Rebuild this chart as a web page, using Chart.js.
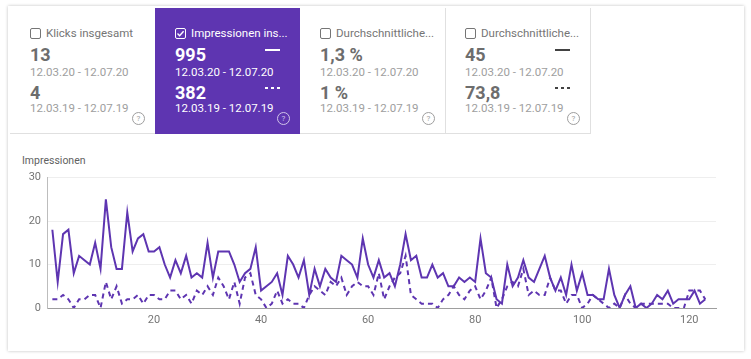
<!DOCTYPE html>
<html>
<head>
<meta charset="utf-8">
<script src="https://cdn.jsdelivr.net/npm/chart.js@4/dist/chart.umd.min.js"></script>
<style>
  body { margin: 0; width: 751px; height: 359px; background: #fff; font-family: Roboto, "Noto Sans", sans-serif; overflow: hidden; position: relative; }
  .panel { position: absolute; left: 8px; top: 6px; width: 736px; height: 345px; background: #fff; box-shadow: 0 0 3px rgba(0,0,0,0.25); }
  .card { position: absolute; top: 8px; width: 145px; height: 126px; color: #757575; border-bottom: 1px solid #e0e0e0; box-sizing: border-box; }
  .card.sel { background: #5e35b1; color: #fff; border-bottom-color: #5e35b1; }
  .card .cb { position: absolute; left: 20px; top: 20px; width: 9px; height: 9px; border: 1.5px solid #757575; border-radius: 2px; }
  .card.sel .cb { border-color: #fff; }
  .card .cb svg { position: absolute; left: 0; top: 0; }
  .card .lbl { position: absolute; left: 36px; top: 18px; font-size: 11.5px; white-space: nowrap; }
  .card .val { position: absolute; left: 20px; font-size: 18px; font-weight: 700; color: #6d6d6d; }
  .card.sel .val { color: #fff; }
  .card .date { position: absolute; left: 20px; font-size: 11.5px; color: #9e9e9e; white-space: nowrap; }
  .card.sel .date { color: #fff; }
  .card .help { position: absolute; left: 122px; top: 104px; width: 11px; height: 11px; border: 1px solid #9e9e9e; border-radius: 50%; font-size: 8px; line-height: 11px; text-align: center; color: #9e9e9e; }
  .card.sel .help { border-color: #d1c4e9; color: #d1c4e9; }
  .card .mk { position: absolute; left: 110px; width: 15px; height: 2px; }
  .mk.solid { top: 41px; background: #424242; }
  .mk.dash { top: 79px; background: repeating-linear-gradient(90deg, #424242 0 3px, transparent 3px 6px); }
  .card.sel .mk.solid { background: #fff; }
  .card.sel .mk.dash { background: repeating-linear-gradient(90deg, #fff 0 3px, transparent 3px 6px); }
  .vline { position: absolute; top: 8px; width: 1px; height: 126px; background: #e0e0e0; }
  #ylabel { position: absolute; left: 22px; top: 154px; font-size: 10.5px; color: #616161; }
  #wrap { position: absolute; left: 10px; top: 165px; width: 720px; height: 167px; }
</style>
</head>
<body>
<div class="panel"></div>

<div class="card" style="left:10px">
  <div class="cb"></div><div class="lbl">Klicks insgesamt</div>
  <div class="val" style="top:36px">13</div>
  <div class="date" style="top:57px">12.03.20 - 12.07.20</div>
  <div class="val" style="top:74px">4</div>
  <div class="date" style="top:93px">12.03.19 - 12.07.19</div>
  <div class="help">?</div>
</div>
<div class="card sel" style="left:155px">
  <div class="cb"><svg width="9" height="9" viewBox="0 0 9 9"><path d="M1.5 4.6 L3.6 6.7 L7.6 2.2" stroke="#fff" stroke-width="1.4" fill="none"/></svg></div>
  <div class="lbl">Impressionen ins...</div>
  <div class="val" style="top:36px">995</div><div class="mk solid"></div>
  <div class="date" style="top:57px">12.03.20 - 12.07.20</div>
  <div class="val" style="top:74px">382</div><div class="mk dash"></div>
  <div class="date" style="top:93px">12.03.19 - 12.07.19</div>
  <div class="help">?</div>
</div>
<div class="card" style="left:300px">
  <div class="cb"></div><div class="lbl">Durchschnittliche...</div>
  <div class="val" style="top:36px">1,3 %</div>
  <div class="date" style="top:57px">12.03.20 - 12.07.20</div>
  <div class="val" style="top:74px">1 %</div>
  <div class="date" style="top:93px">12.03.19 - 12.07.19</div>
  <div class="help">?</div>
</div>
<div class="card" style="left:445px">
  <div class="cb"></div><div class="lbl">Durchschnittliche...</div>
  <div class="val" style="top:36px">45</div><div class="mk solid"></div>
  <div class="date" style="top:57px">12.03.20 - 12.07.20</div>
  <div class="val" style="top:74px">73,8</div><div class="mk dash"></div>
  <div class="date" style="top:93px">12.03.19 - 12.07.19</div>
  <div class="help">?</div>
</div>
<div class="vline" style="left:445px"></div>
<div class="vline" style="left:590px"></div>

<div id="ylabel">Impressionen</div>
<div id="wrap"><canvas id="chart"></canvas></div>

<script>
// Tage 1..123 im Zeitraum
const days = Array.from({ length: 123 }, (_, i) => i + 1);

// Impressionen 12.03.20 - 12.07.20
const impr2020 = [
  18, 6, 17, 18, 8, 12, 11, 10, 15, 9,
  25, 14, 9, 9, 22, 13, 16, 17, 13, 13,
  14, 10, 7, 11, 8, 12, 7, 8, 7, 15,
  7, 13, 13, 13, 10, 6, 8, 9, 14, 4,
  5, 6, 8, 3, 12, 10, 7, 11, 3, 9,
  5, 9, 7, 6, 12, 11, 10, 7, 16, 10,
  7, 11, 7, 8, 5, 10, 17, 11, 12, 7,
  7, 10, 7, 8, 5, 5, 7, 6, 7, 6,
  16, 8, 7, 2, 1, 10, 5, 7, 11, 7,
  6, 9, 12, 7, 4, 7, 3, 10, 4, 8,
  3, 3, 2, 2, 9, 3, 0, 3, 5, 0,
  1, 0, 1, 3, 2, 4, 1, 2, 2, 2,
  4, 1, 2
];

// Impressionen 12.03.19 - 12.07.19
const impr2019 = [
  2, 2, 3, 2, 0, 2, 2, 3, 3, 0,
  6, 2, 5, 1, 2, 2, 3, 1, 3, 3,
  2, 2, 4, 4, 2, 3, 1, 4, 3, 5,
  3, 7, 5, 2, 6, 1, 7, 8, 3, 2,
  0, 1, 4, 1, 2, 1, 1, 0, 3, 5,
  4, 3, 6, 5, 7, 3, 5, 6, 5, 5,
  3, 8, 2, 5, 7, 8, 12, 3, 2, 1,
  1, 1, 0, 2, 3, 5, 3, 2, 4, 5,
  2, 4, 7, 0, 2, 5, 6, 5, 9, 3,
  4, 3, 3, 7, 4, 4, 1, 3, 3, 0,
  1, 3, 2, 1, 0, 1, 0, 3, 1, 0,
  1, 1, 1, 1, 1, 1, 0, 0, 0, 4,
  4, 4, 2
];

const xTicks = [20, 40, 60, 80, 100, 120];
const yTicks = [0, 10, 20, 30];

const purple = "#5e35b1";
const tickFont = { family: "Roboto", size: 11 };

const ctx = document.getElementById("chart").getContext("2d");

new Chart(ctx, {
    type: "line",
    data: {
        datasets: [{
            label: "12.03.20 - 12.07.20",
            data: days.map((d, i) => ({ x: d, y: impr2020[i] })),
            borderColor: purple,
            borderWidth: 2,
            pointRadius: 0,
            fill: false,
            tension: 0
        }, {
            label: "12.03.19 - 12.07.19",
            data: days.map((d, i) => ({ x: d, y: impr2019[i] })),
            borderColor: purple,
            borderWidth: 2,
            borderDash: [5, 4],
            pointRadius: 0,
            fill: false,
            tension: 0
        }]
    },
    options: {
        responsive: true,
        maintainAspectRatio: false,
        animation: false,
        layout: { padding: { top: 9, right: 14, left: 0, bottom: 0 } },
        plugins: {
            legend: { display: false },
            tooltip: { enabled: false }
        },
        scales: {
            x: {
                type: "linear",
                min: 0,
                max: 125,
                afterBuildTicks: (s) => { s.ticks = xTicks.map(v => ({ value: v })); },
                afterFit: (s) => { s.height = 24; },
                ticks: { color: "#757575", font: tickFont, padding: 6, maxRotation: 0 },
                grid: { display: false, drawTicks: false },
                border: { color: "#9e9e9e", width: 1 }
            },
            y: {
                min: 0,
                max: 30,
                afterBuildTicks: (s) => { s.ticks = yTicks.map(v => ({ value: v })); },
                afterFit: (s) => { s.width = 37; },
                ticks: { color: "#757575", font: tickFont, padding: 6 },
                grid: { color: "#eeeeee", drawTicks: false },
                border: { color: "#bdbdbd", width: 1 }
            }
        }
    }
});
</script>
</body>
</html>
